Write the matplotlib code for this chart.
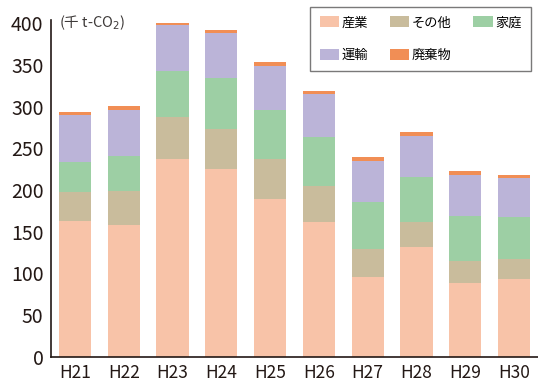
import numpy as np
import matplotlib.pyplot as plt
from matplotlib.patches import Patch

plt.rcParams['font.family'] = ['Noto Sans CJK JP', 'DejaVu Sans']

# 年度
nendo = ['H21', 'H22', 'H23', 'H24', 'H25', 'H26', 'H27', 'H28', 'H29', 'H30']

# 部門別排出量（千 t-CO2）
sangyo = [163, 158, 237, 225, 189, 161, 96, 132, 88, 93]
sonota = [35, 41, 50, 48, 48, 44, 33, 30, 27, 24]
katei = [36, 42, 56, 61, 59, 58, 56, 54, 54, 50]
unyu = [56, 55, 55, 54, 53, 52, 50, 49, 49, 47]
haikibutsu = [3, 5, 2, 4, 4, 4, 5, 5, 5, 4]

series = [
    ('産業', sangyo, '#f8c3a8'),
    ('その他', sonota, '#c9bc9c'),
    ('家庭', katei, '#9dcfa4'),
    ('運輸', unyu, '#bbb4d8'),
    ('廃棄物', haikibutsu, '#f18e55'),
]

fig = plt.figure(figsize=(5.38, 3.81), dpi=100)
ax = fig.add_axes([0.095, 0.064, 0.905, 0.884])

x = np.arange(len(nendo))
bottom = np.zeros(len(nendo))
for nombre, valores, color in series:
    ax.bar(x, valores, width=0.66, bottom=bottom, color=color, label=nombre)
    bottom += np.array(valores)

ax.set_xlim(-0.49, 9.49)
ax.set_ylim(0, 404)
ax.set_yticks(np.arange(0, 401, 50))
ax.set_xticks(x)
ax.set_xticklabels(nendo)
ax.tick_params(axis='y', length=0, labelsize=14, colors='#231815', pad=5.5)
ax.tick_params(axis='x', length=0, labelsize=12.5, colors='#231815', pad=5)
for lado in ['top', 'right']:
    ax.spines[lado].set_visible(False)
for lado in ['left', 'bottom']:
    ax.spines[lado].set_color('#231815')
    ax.spines[lado].set_linewidth(1.2)

ax.text(-0.33, 400, '(千 t-CO$_2$)', fontsize=10.5,
        color='#3e3a39', va='center', ha='left')

# orden por columnas para que las filas queden como en la figura
orden = [0, 3, 1, 4, 2]
handles = [Patch(facecolor=series[i][2], label=series[i][0]) for i in orden]
leg = fig.legend(handles=handles, ncol=3, loc='upper right',
                 bbox_to_anchor=(0.987, 0.981), bbox_transform=fig.transFigure,
                 borderaxespad=0, fontsize=9.5, frameon=True,
                 fancybox=False, handlelength=1.5, handleheight=0.9,
                 columnspacing=1.6, labelspacing=1.45, handletextpad=0.2,
                 borderpad=0.7)
leg.get_frame().set_edgecolor('#595757')
leg.get_frame().set_linewidth(1.0)

fig.savefig('out.png', dpi=100)
